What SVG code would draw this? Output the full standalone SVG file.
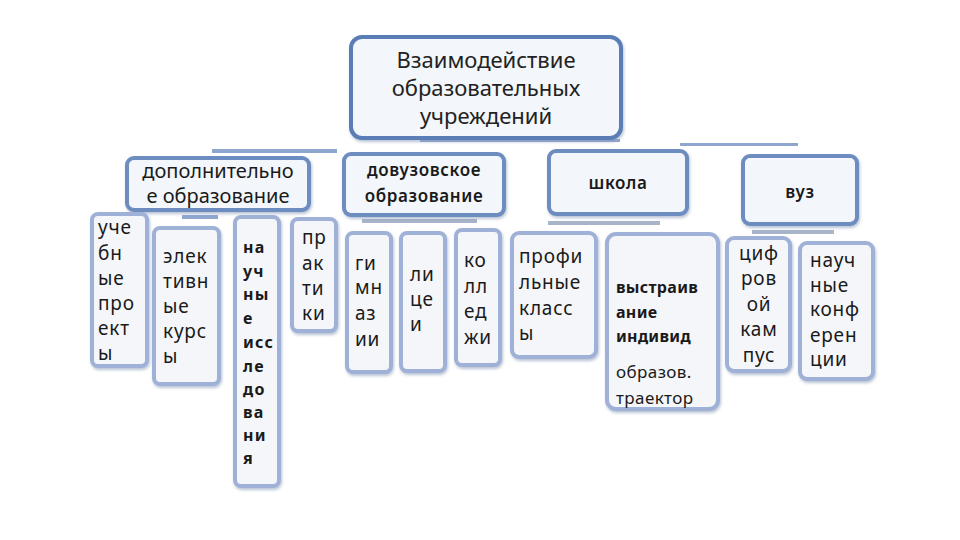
<svg xmlns="http://www.w3.org/2000/svg" width="960" height="540" viewBox="0 0 960 540">
<defs>
<filter id="sh" x="-20%" y="-20%" width="140%" height="140%">
<feDropShadow dx="1" dy="2" stdDeviation="1.5" flood-color="#8a9cb8" flood-opacity="0.6"/>
</filter>
</defs>
<style>
.b1{fill:#f3f6fa;stroke:#5a7db5;stroke-width:4;filter:url(#sh)}
.b2{fill:#f3f6fa;stroke:#6d8cc0;stroke-width:4;filter:url(#sh)}
.b3{fill:#f5f6f9;stroke:#9fb1d6;stroke-width:4;filter:url(#sh)}
text{font-family:"Noto Sans","Open Sans",sans-serif;fill:#1a1a1a}
.t1{font-size:22px;text-anchor:middle;fill:#222}
.t2{font-size:20px;text-anchor:middle}
.t2b{font-size:17px;text-anchor:middle;font-weight:600;letter-spacing:0.6px}
.t3{font-size:19px;letter-spacing:0.8px}
.t3c{font-size:19px;text-anchor:middle;letter-spacing:0.8px}
.t3b{font-size:16px;font-weight:bold;letter-spacing:1.2px}
.bar{fill:#8ea6cf}
.barl{fill:#a8b4c8}
</style>
<g id="connectors">
<rect class="bar" x="212" y="149" width="125" height="4"/>
<rect class="bar" x="420" y="139" width="200" height="3"/>
<rect class="bar" x="680" y="143" width="118" height="3"/>
<rect class="bar" x="182" y="215" width="36" height="4"/>
<rect class="barl" x="362" y="219" width="115" height="4"/>
<rect class="barl" x="548" y="221" width="112" height="4"/>
<rect class="barl" x="752" y="230" width="82" height="4"/>
</g>
<g id="root">
<rect class="b1" x="351" y="37" width="270" height="101" rx="11"/>
<text class="t1" x="486" y="68">Взаимодействие</text>
<text class="t1" x="486" y="96">образовательных</text>
<text class="t1" x="486" y="124">учреждений</text>
</g>
<g id="dop">
<rect class="b2" x="127" y="158" width="182" height="52" rx="7"/>
<text class="t2" x="218" y="178">дополнительно</text>
<text class="t2" x="218" y="203">е образование</text>
</g>
<g id="dovuz">
<rect class="b2" x="344" y="154" width="160" height="61" rx="7"/>
<text class="t2b" x="424" y="176">довузовское</text>
<text class="t2b" x="424" y="202">образование</text>
</g>
<g id="shkola">
<rect class="b2" x="549" y="151" width="138" height="63" rx="7"/>
<text class="t2b" x="618" y="189">школа</text>
</g>
<g id="vuz">
<rect class="b2" x="743" y="156" width="114" height="68" rx="7"/>
<text class="t2b" x="800" y="198">вуз</text>
</g>
<g id="uchebnye">
<rect class="b3" x="92" y="214" width="55" height="152" rx="6"/>
<text class="t3" x="98"><tspan x="98" y="234">уче</tspan><tspan x="98" y="260">бн</tspan><tspan x="98" y="285">ые</tspan><tspan x="98" y="310">про</tspan><tspan x="98" y="335">ект</tspan><tspan x="98" y="360">ы</tspan></text>
</g>
<g id="elektiv">
<rect class="b3" x="154" y="228" width="65" height="156" rx="6"/>
<text class="t3" x="163"><tspan x="163" y="263">элек</tspan><tspan x="163" y="288">тивн</tspan><tspan x="163" y="313">ые</tspan><tspan x="163" y="338">курс</tspan><tspan x="163" y="363">ы</tspan></text>
</g>
<g id="nauch">
<rect class="b3" x="235" y="217" width="44" height="269" rx="6"/>
<text class="t3b" x="243"><tspan x="243" y="253">на</tspan><tspan x="243" y="277">уч</tspan><tspan x="243" y="300">ны</tspan><tspan x="243" y="324">е</tspan><tspan x="243" y="348">исс</tspan><tspan x="243" y="372">ле</tspan><tspan x="243" y="395">до</tspan><tspan x="243" y="418">ва</tspan><tspan x="243" y="441">ни</tspan><tspan x="243" y="464">я</tspan></text>
</g>
<g id="praktiki">
<rect class="b3" x="292" y="219" width="44" height="112" rx="6"/>
<text class="t3" x="302"><tspan x="302" y="244">пр</tspan><tspan x="302" y="270">ак</tspan><tspan x="302" y="295">ти</tspan><tspan x="302" y="320">ки</tspan></text>
</g>
<g id="gimnazii">
<rect class="b3" x="347" y="233" width="44" height="139" rx="6"/>
<text class="t3" x="355"><tspan x="355" y="270">ги</tspan><tspan x="355" y="294">мн</tspan><tspan x="355" y="320">аз</tspan><tspan x="355" y="346">ии</tspan></text>
</g>
<g id="licei">
<rect class="b3" x="401" y="233" width="44" height="138" rx="6"/>
<text class="t3" x="410"><tspan x="410" y="281">ли</tspan><tspan x="410" y="306">це</tspan><tspan x="410" y="331">и</tspan></text>
</g>
<g id="kolledzhi">
<rect class="b3" x="456" y="230" width="44" height="135" rx="6"/>
<text class="t3" x="464"><tspan x="464" y="267">ко</tspan><tspan x="464" y="293">лл</tspan><tspan x="464" y="318">ед</tspan><tspan x="464" y="344">жи</tspan></text>
</g>
<g id="profil">
<rect class="b3" x="512" y="233" width="84" height="124" rx="7"/>
<text class="t3" x="519"><tspan x="519" y="263">профи</tspan><tspan x="519" y="289">льные</tspan><tspan x="519" y="315">класс</tspan><tspan x="519" y="340">ы</tspan></text>
</g>
<g id="vystraiv">
<rect class="b3" x="607" y="234" width="111" height="175" rx="9"/>
<text class="t3b" x="616" style="letter-spacing:0.3px"><tspan x="616" y="293">выстраив</tspan><tspan x="616" y="318">ание</tspan><tspan x="616" y="342">индивид</tspan></text>
<text class="t3" x="616" style="font-size:17px;letter-spacing:0.4px"><tspan x="616" y="378">образов.</tspan><tspan x="616" y="404">траектор</tspan></text>
</g>
<g id="kampus">
<rect class="b3" x="727" y="238" width="63" height="133" rx="7"/>
<text class="t3c" x="759"><tspan x="759" y="260">циф</tspan><tspan x="759" y="285">ров</tspan><tspan x="759" y="311">ой</tspan><tspan x="759" y="336">кам</tspan><tspan x="759" y="362">пус</tspan></text>
</g>
<g id="konf">
<rect class="b3" x="800" y="243" width="73" height="136" rx="7"/>
<text class="t3" x="810"><tspan x="810" y="267">науч</tspan><tspan x="810" y="292">ные</tspan><tspan x="810" y="316">конф</tspan><tspan x="810" y="342">ерен</tspan><tspan x="810" y="366">ции</tspan></text>
</g>
</svg>
